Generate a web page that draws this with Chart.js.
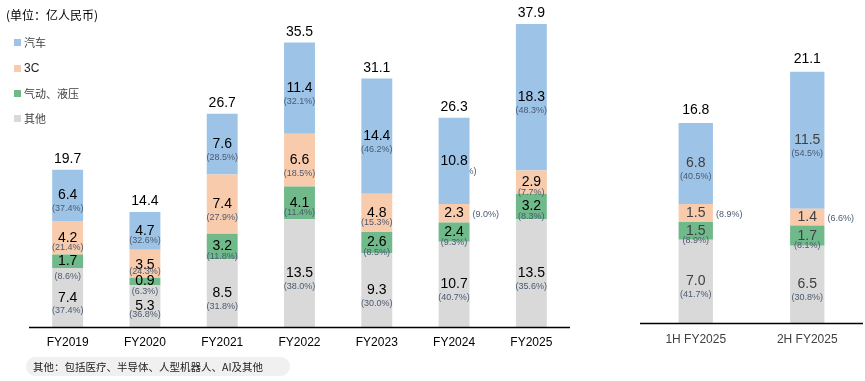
<!DOCTYPE html>
<html><head><meta charset="utf-8">
<script src="https://cdn.jsdelivr.net/npm/chart.js@4.4.1/dist/chart.umd.min.js"></script>
<style>
body{margin:0;background:#fff;width:865px;height:381px;overflow:hidden;position:relative;font-family:"Liberation Sans",Arial,sans-serif}
#c1{position:absolute;left:0;top:0}
#c2{position:absolute;left:600px;top:0}
.title{position:absolute;left:6px;top:7px;font:12px/16px "Noto Sans CJK SC";color:#000}
.leg{position:absolute;left:14px;height:14px;font:11px/14px "Noto Sans CJK SC";color:#404040;display:flex;align-items:center}
.leg i{display:inline-block;width:7px;height:7px;margin-right:3px}
.note{position:absolute;left:26px;top:357px;width:264px;height:19px;background:#f0f0f0;border-radius:9px;font:10.5px/19px "Noto Sans CJK SC";color:#222;padding-left:7px;box-sizing:border-box}
</style></head>
<body>
<canvas id="c1" width="600" height="381"></canvas>
<canvas id="c2" width="265" height="381"></canvas>
<div class="title">(单位：亿人民币)</div>
<div id="legend"></div>
<div class="note">其他：包括医疗、半导体、人型机器人、AI及其他</div>
<script>
// ---- data ----
const seriesNames = ['其他', '气动、液压', '3C', '汽车'];
const categories = ['FY2019', 'FY2020', 'FY2021', 'FY2022', 'FY2023', 'FY2024', 'FY2025'];
const otherVals = [7.4, 5.3, 8.5, 13.5, 9.3, 10.7, 13.5];
const pneuVals  = [1.7, 0.9, 3.2, 4.1, 2.6, 2.4, 3.2];
const c3Vals    = [4.2, 3.5, 7.4, 6.6, 4.8, 2.3, 2.9];
const autoVals  = [6.4, 4.7, 7.6, 11.4, 14.4, 10.8, 18.3];
const totals    = [19.7, 14.4, 26.7, 35.5, 31.1, 26.3, 37.9];
const otherPct  = ['37.4%', '36.8%', '31.8%', '38.0%', '30.0%', '40.7%', '35.6%'];
const pneuPct   = ['8.6%', '6.3%', '11.8%', '11.4%', '8.5%', '9.3%', '8.3%'];
const c3Pct     = ['21.4%', '24.3%', '27.9%', '18.5%', '15.3%', '9.0%', '7.7%'];
const autoPct   = ['37.4%', '32.6%', '28.5%', '32.1%', '46.2%', '41.1%', '48.3%'];

const halfCategories = ['1H FY2025', '2H FY2025'];
const halfOther = [7.0, 6.5];
const halfPneu  = [1.5, 1.7];
const halfC3    = [1.5, 1.4];
const halfAuto  = [6.8, 11.5];
const halfTotals = [16.8, 21.1];
const halfOtherPct = ['41.7%', '30.8%'];
const halfPneuPct  = ['8.9%', '8.1%'];
const halfC3Pct    = ['8.9%', '6.6%'];
const halfAutoPct  = ['40.5%', '54.5%'];

const colors = ['#D9D9D9', '#70B98A', '#F8CBAD', '#9DC3E6'];

// legend (top to bottom: 汽车, 3C, 气动、液压, 其他)
const legTops = [35, 61, 86, 111];
const legEl = document.getElementById('legend');
[3, 2, 1, 0].forEach((si, k) => {
  const d = document.createElement('div');
  d.className = 'leg';
  d.style.top = legTops[k] + 'px';
  d.innerHTML = '<i style="background:' + colors[si] + '"></i>' + seriesNames[si];
  if (seriesNames[si] === '3C') { d.style.fontFamily = '"Liberation Sans"'; d.style.fontSize = '12px'; d.style.color = '#222'; }
  legEl.appendChild(d);
});

const PCT_FONT = '9px "Liberation Sans"';
const segLabels = {
  id: 'segLabels',
  beforeDatasetsDraw(chart, args, o) {
    const ctx = chart.ctx;
    ctx.save();
    (o.hidden || []).forEach(([ds, i]) => {
      const el = chart.getDatasetMeta(ds).data[i];
      const cy = (el.y + el.base) / 2;
      ctx.font = PCT_FONT;
      ctx.fillStyle = o.pctColor;
      ctx.textAlign = 'right'; ctx.textBaseline = 'middle';
      ctx.fillText('(' + o.pcts[ds][i] + ')', el.x + el.width / 2 + 7, cy + 11);
    });
    ctx.restore();
  },
  afterDatasetsDraw(chart, args, o) {
    const ctx = chart.ctx;
    ctx.save();
    ctx.textBaseline = 'middle';
    const side = o.side || [], hidden = o.hidden || [], dy = o.dy || {};
    chart.data.datasets.forEach((dset, ds) => {
      chart.getDatasetMeta(ds).data.forEach((el, i) => {
        const cy = (el.y + el.base) / 2;
        const h = el.base - el.y;
        const key = ds + '_' + i;
        const t = dy[key] || [0, 0];
        ctx.font = '14px "Liberation Sans"';
        ctx.fillStyle = o.valueColor;
        ctx.textAlign = 'center';
        ctx.fillText(dset.data[i].toFixed(1), el.x, cy + t[0]);
        if (hidden.some(p => p[0] === ds && p[1] === i)) return;
        ctx.font = PCT_FONT;
        ctx.fillStyle = o.pctColor;
        const txt = '(' + o.pcts[ds][i] + ')';
        if (side.some(p => p[0] === ds && p[1] === i)) {
          ctx.textAlign = 'left';
          ctx.fillText(txt, el.x + el.width / 2 + 3, cy + 1);
        } else {
          ctx.textAlign = 'center';
          ctx.fillText(txt, el.x, cy + (h < 45 ? 10 : 13) + t[1]);
        }
      });
    });
    // totals
    const top = chart.getDatasetMeta(chart.data.datasets.length - 1).data;
    ctx.font = '14px "Liberation Sans"';
    ctx.fillStyle = '#000';
    ctx.textAlign = 'center';
    top.forEach((el, i) => ctx.fillText(o.totals[i].toFixed(1), el.x, el.y - o.totalGap));
    // baseline and category labels
    const ca = chart.chartArea;
    ctx.strokeStyle = '#000';
    ctx.lineWidth = 1.5;
    ctx.beginPath();
    ctx.moveTo(ca.left, ca.bottom + 0.25);
    ctx.lineTo(ca.right, ca.bottom + 0.25);
    ctx.stroke();
    ctx.font = '12px "Liberation Sans"';
    ctx.fillStyle = o.catColor;
    const xs = chart.scales.x;
    chart.data.labels.forEach((lab, i) => ctx.fillText(lab, xs.getPixelForValue(i), ca.bottom + o.catGap));
    ctx.restore();
  }
};

function makeChart(id, labels, vals, barPct, yMax, padding, opts) {
  return new Chart(document.getElementById(id), {
    type: 'bar',
    data: {
      labels: labels,
      datasets: vals.map((v, k) => ({
        label: seriesNames[k], data: v, backgroundColor: colors[k],
        borderWidth: 0, barPercentage: barPct, categoryPercentage: 1
      }))
    },
    options: {
      responsive: false, animation: false, devicePixelRatio: 1,
      layout: { padding: padding },
      scales: {
        x: { stacked: true, display: false },
        y: { stacked: true, display: false, min: 0, max: yMax }
      },
      plugins: { legend: { display: false }, tooltip: { enabled: false }, segLabels: opts }
    },
    plugins: [segLabels]
  });
}

makeChart('c1', categories, [otherVals, pneuVals, c3Vals, autoVals], 0.40, 40,
  { left: 29, right: 30, top: 7.3, bottom: 53.7 },
  { valueColor: '#000', pctColor: '#4A5A72', catColor: '#000', totals: totals, totalGap: 10.5, catGap: 15,
    pcts: [otherPct, pneuPct, c3Pct, autoPct],
    side: [[2, 5]], hidden: [[3, 5]],
    dy: { '1_0': [0, 5], '2_1': [1, -2], '0_1': [0, -2] } });

makeChart('c2', halfCategories, [halfOther, halfPneu, halfC3, halfAuto], 0.308, 25,
  { left: 40, right: 2, top: 25.3, bottom: 57.7 },
  { valueColor: '#404040', pctColor: '#4A5A72', catColor: '#404040', totals: halfTotals, totalGap: 13, catGap: 16,
    pcts: [halfOtherPct, halfPneuPct, halfC3Pct, halfAutoPct],
    side: [[2, 0], [2, 1]], hidden: [],
    dy: {} });
</script>
</body></html>
